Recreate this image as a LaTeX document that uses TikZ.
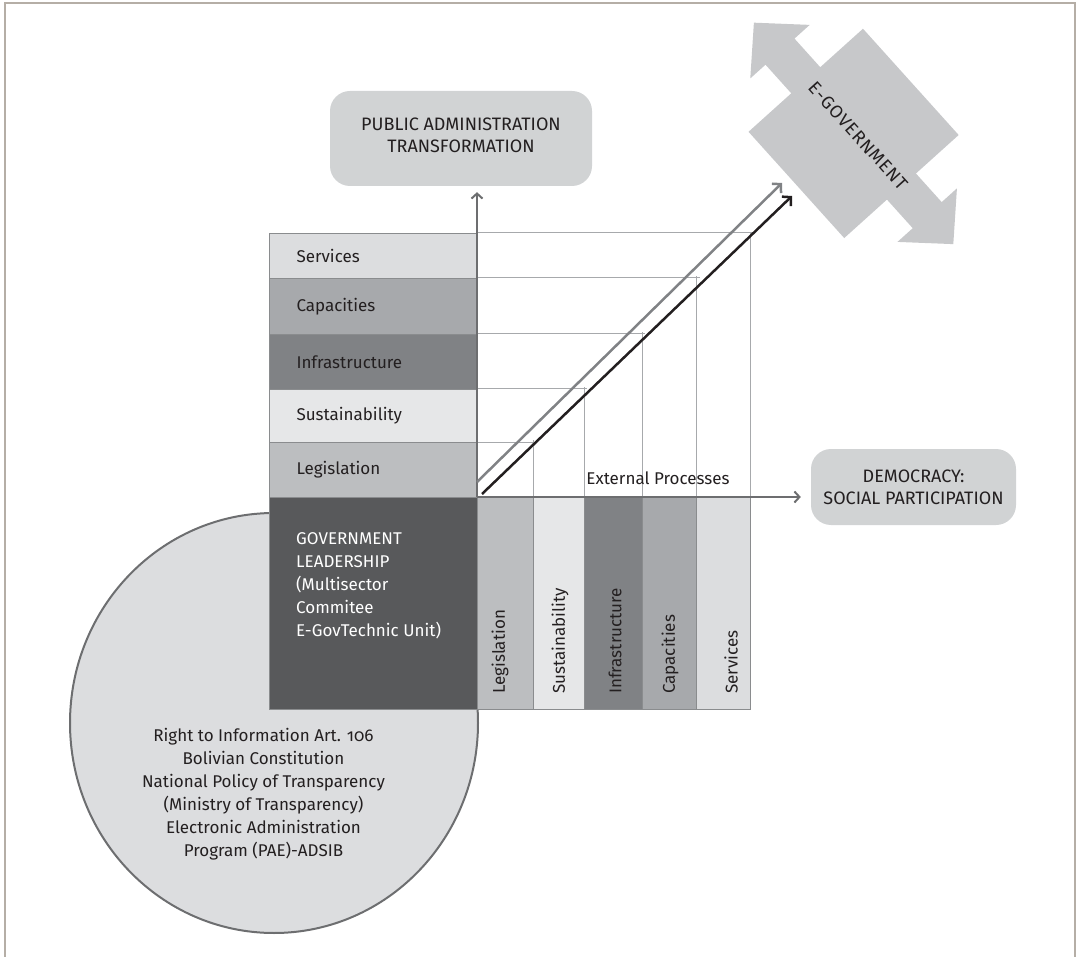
\documentclass[tikz,border=0pt]{standalone}
\usepackage{fontspec}
\setmainfont{Fira Sans}[Numbers=OldStyle]
\newfontfamily\egovfont{Fira Sans}[LetterSpace=5]
\usetikzlibrary{arrows.meta,shapes.geometric}
\definecolor{cText}{HTML}{231F20}
\definecolor{cFrame}{HTML}{B5AEA6}
\definecolor{cL1}{HTML}{E6E7E8}
\definecolor{cL2}{HTML}{DCDDDF}
\definecolor{cL3}{HTML}{BCBEC0}
\definecolor{cM}{HTML}{A7A9AC}
\definecolor{cD}{HTML}{808285}
\definecolor{cDark}{HTML}{58595B}
\definecolor{cBox}{HTML}{D1D3D4}
\definecolor{cEgov}{HTML}{C7C8CA}
\definecolor{cAxis}{HTML}{6D6E70}
\definecolor{cGrid}{HTML}{A7A9AC}
\definecolor{cEdge}{HTML}{8A8C8E}
\begin{document}
\begin{tikzpicture}[x=1pt,y=-1pt,
  every node/.style={text=cText, font=\fontsize{17}{23}\selectfont},
  rowbox/.style={draw=cEdge, line width=1pt, minimum width=208pt, anchor=north west,
    inner xsep=27pt, inner ysep=0pt, text width=154pt, align=left},
  colbox/.style={draw=cEdge, line width=1pt, anchor=north west, minimum width=#1,
    minimum height=212pt, inner sep=0pt},
  collabel/.style={rotate=90, anchor=west, inner sep=0pt},
  gridline/.style={draw=cGrid, line width=1pt},
  axisarrow/.style={draw=cAxis, line width=2pt, -{Straight Barb[length=5pt,width=11pt]}},
  diagarrow/.style={line width=2.5pt, -{Straight Barb[length=6pt,width=13pt]}},
  roundbox/.style={fill=cBox, rounded corners=20pt, align=center, inner sep=0pt,
    font=\fontsize{18}{22}\selectfont},
]
\useasboundingbox (0,0) rectangle (1079,957);
% frame
\draw[cFrame, line width=1.5pt] (5,957) -- (5,3) -- (1075,3) -- (1075,957);
% circle
\node[draw=cAxis, line width=2pt, fill=cL2, ellipse, minimum width=408pt, minimum height=420pt, inner sep=0pt] (circ) at (274,723) {};
\node[align=center, inner sep=0pt] (circtxt) at (263.5,794) {Right to Information Art. 106\\Bolivian Constitution\\National Policy of Transparency\\(Ministry of Transparency)\\Electronic Administration\\Program (PAE)-ADSIB};
% rows
\node[rowbox, fill=cL2, minimum height=45pt] (rServ) at (269,233) {Services\\[-6pt]};
\node[rowbox, fill=cM, minimum height=56pt] (rCap) at (269,278) {Capacities};
\node[rowbox, fill=cD, minimum height=55pt] (rInf) at (269,334) {Infrastructure};
\node[rowbox, fill=cL1, minimum height=53pt] (rSus) at (269,389) {Sustainability};
\node[rowbox, fill=cL3, minimum height=55pt] (rLeg) at (269,442) {Legislation};
% government box
\node[draw=cEdge, line width=1pt, fill=cDark, anchor=north west, minimum width=208pt, minimum height=212pt, inner sep=0pt] (gov) at (269,497) {};
\node[anchor=north west, text=white, align=left, inner sep=0pt] (govtxt) at (296,532) {GOVERNMENT\\LEADERSHIP\\(Multisector\\Commitee\\E-GovTechnic Unit)};
% columns
\node[colbox=56pt, fill=cL3] (cLeg) at (477,497) {};
\node[colbox=51pt, fill=cL1] (cSus) at (533,497) {};
\node[colbox=58pt, fill=cD] (cInf) at (584,497) {};
\node[colbox=54pt, fill=cM] (cCap) at (642,497) {};
\node[colbox=54pt, fill=cL2] (cSrv) at (696,497) {};
\node[collabel] (lLeg) at (500,694) {Legislation};
\node[collabel] (lSus) at (560,694) {Sustainability};
\node[collabel] (lInf) at (615,694) {Infrastructure};
\node[collabel] (lCap) at (670,694) {Capacities};
\node[collabel] (lSrv) at (731,694) {Services};
% grid
\draw[gridline] (477,442) -- (536,442) (533,497) -- (533,440);
\draw[gridline] (477,389) -- (587,389) (584,497) -- (584,387);
\draw[gridline] (477,334) -- (645,334) (642,497) -- (642,332);
\draw[gridline] (477,278) -- (700,278) (696,497) -- (696,276);
\draw[gridline] (477,233) -- (754,233) (750,497) -- (750,233);
\node[inner sep=0pt] (ext) at (658,478) {External Processes};
% boxes
\node[roundbox, minimum width=262pt, minimum height=95pt] (pat) at (461,138.5) {PUBLIC ADMINISTRATION\\TRANSFORMATION\\[-15pt]};
\node[roundbox, minimum width=205pt, minimum height=76pt] (dem) at (913.5,487) {DEMOCRACY:\\SOCIAL PARTICIPATION};
% axes
\coordinate (origin) at (477,497);
\draw[axisarrow, shorten >=6pt] (origin) -- (origin |- pat.south);
\draw[axisarrow, shorten >=10pt] (origin) -- (origin -| dem.west);
% e-government double arrow
\begin{scope}[shift={(853.6,133.4)}, rotate=-48]
\fill[cEgov] (-149,0) -- (-110,40) -- (-110,19.5) -- (-71.5,19.5) -- (-71.5,77) -- (71.5,77)
  -- (71.5,19.5) -- (110,19.5) -- (110,40) -- (149,0) -- (110,-40) -- (110,-19.5)
  -- (71.5,-19.5) -- (71.5,-77) -- (-71.5,-77) -- (-71.5,-19.5) -- (-110,-19.5)
  -- (-110,-40) -- cycle;
\end{scope}
\node[rotate=-48, font=\egovfont\fontsize{18}{20}\selectfont] (egov) at (858,136) {E-GOVERNMENT};
% diagonal arrows
\coordinate (gs) at (477,482); \coordinate (ge) at (782,183);
\coordinate (bs) at (482,494); \coordinate (be) at (792,196);
\draw[diagarrow, draw=cD] (gs) -- (ge);
\draw[diagarrow, draw=cText] (bs) -- (be);
\end{tikzpicture}
\end{document}
